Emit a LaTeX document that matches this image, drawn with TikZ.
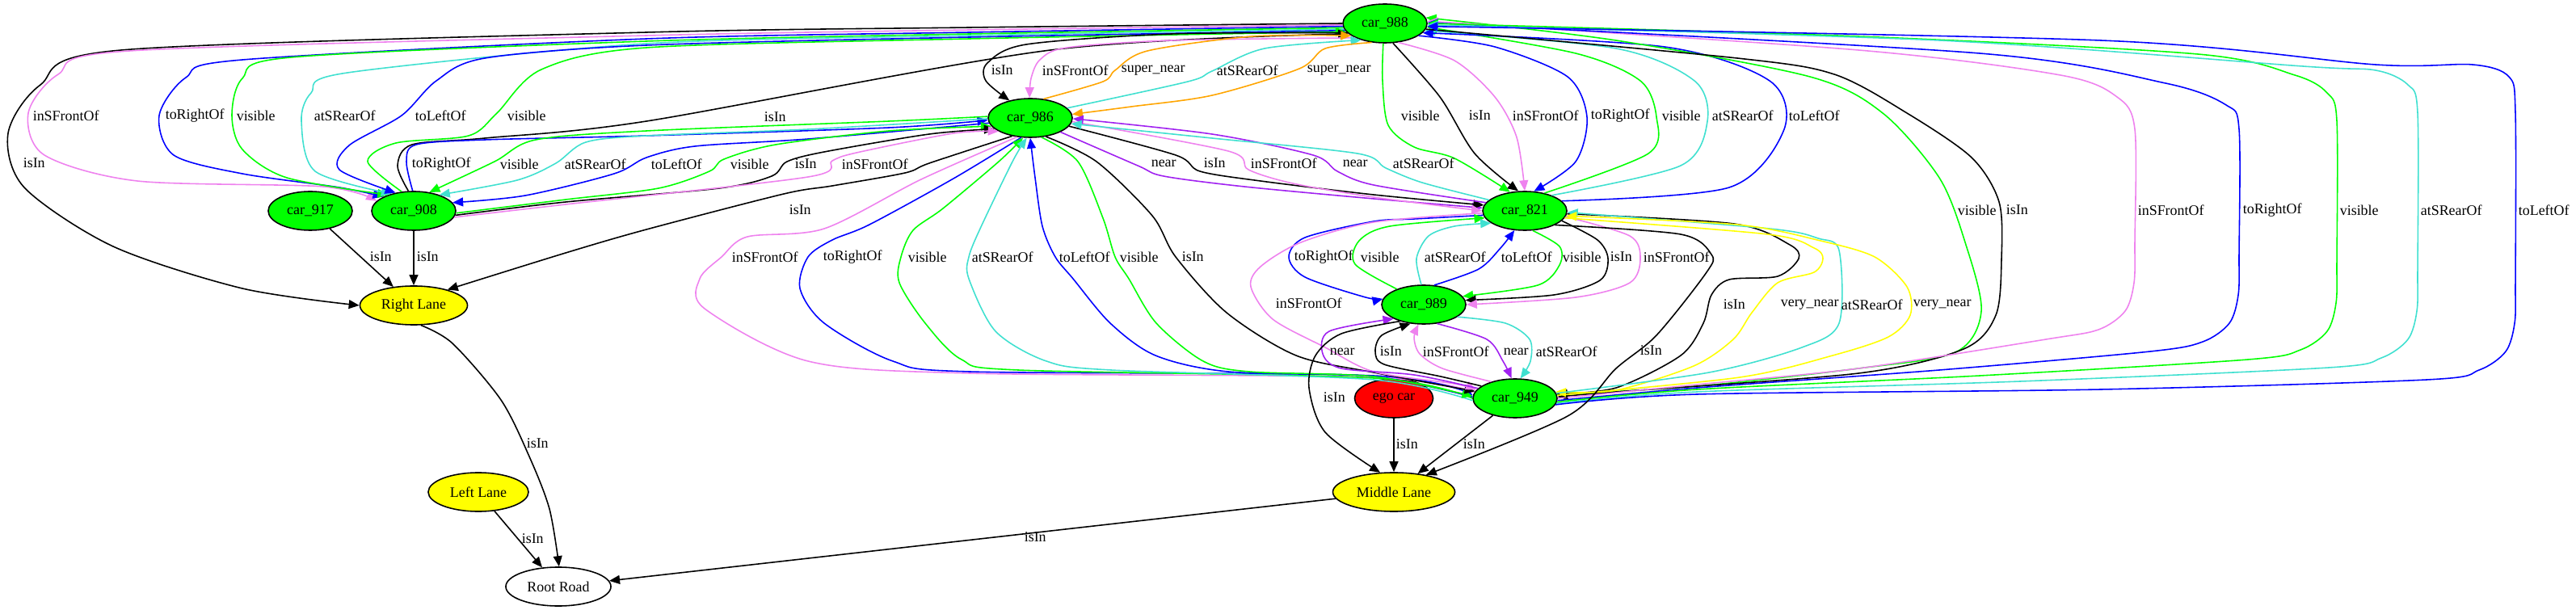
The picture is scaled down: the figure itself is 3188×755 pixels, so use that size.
\documentclass[tikz,border=0pt]{standalone}
\usepackage{fontspec}
\setmainfont{Liberation Serif}
\usetikzlibrary{shapes.geometric, arrows.meta}
\definecolor{gvgreen}{HTML}{00FF00}
\definecolor{gvyellow}{HTML}{FFFF00}
\definecolor{gvred}{HTML}{FF0000}
\definecolor{gvviolet}{HTML}{EE82EE}
\definecolor{gvturq}{HTML}{40E0D0}
\definecolor{gvpurple}{HTML}{A020F0}
\definecolor{gvorange}{HTML}{FFA500}
\definecolor{gvblue}{HTML}{0000FF}

\begin{document}
\begin{tikzpicture}[x=0.01cm, y=-0.01cm,
  font=\fontsize{5.1pt}{6pt}\selectfont,
  car/.style={ellipse, draw, line width=0.45pt, fill=gvgreen, minimum width=1.04cm, minimum height=0.48cm, inner sep=0pt},
  lane/.style={car, fill=gvyellow},
  rel/.style={color=#1, line width=0.45pt, -{Triangle[length=3.7pt, width=3.1pt]}},
  lbl/.style={anchor=west, inner sep=0pt, text=black}
]
  \useasboundingbox (0,0) rectangle (3188,755);

  \node[car] (n988) at (1714,29) {car\_988};
  \node[car] (n986) at (1275,146) {car\_986};
  \node[car] (n917) at (384,261) {car\_917};
  \node[car] (n908) at (512,261) {car\_908};
  \node[car] (n821) at (1887,261) {car\_821};
  \node[car] (n989) at (1762,377) {car\_989};
  \node[car, fill=gvred, minimum width=0.97cm] (nego) at (1725,493) {ego car};
  \node[car] (n949) at (1875,493) {car\_949};
  \node[lane, minimum width=1.33cm] (nRL) at (512,378) {Right Lane};
  \node[lane, minimum width=1.24cm] (nLL) at (592,609) {Left Lane};
  \node[lane, minimum width=1.51cm] (nML) at (1725,609) {Middle Lane};
  \node[car, fill=white, minimum width=1.30cm] (nRR) at (691,726) {Root Road};

  % car_988 <-> car_908, far left
  \draw[rel=black] (28,202) node[lbl]{isIn} plot[smooth] coordinates {(n988.180) (1200,34) (800,40) (150,62) (50,105) (10,165) (30,232) (140,305) (300,357) (nRL.180)};
  \draw[rel=gvviolet] (40,143) node[lbl]{inSFrontOf} plot[smooth] coordinates {(n988.182) (1200,37) (800,44) (160,63) (72,92) (35,140) (55,192) (170,224) (400,231) (n908.165)};
  \draw[rel=gvblue] (204,143) node[lbl]{toRightOf} plot[smooth] coordinates {(n988.184) (1200,40) (800,48) (300,74) (230,96) (197,143) (215,192) (300,215) (420,232) (n908.155)};
  \draw[rel=gvgreen] (292,143) node[lbl]{visible} plot[smooth] coordinates {(n988.186) (1200,42) (800,51) (360,71) (300,97) (287,143) (300,185) (355,220) (n908.148)};
  \draw[rel=gvturq] (388,143) node[lbl]{atSRearOf} plot[smooth] coordinates {(n988.188) (1200,44) (800,54) (430,90) (385,115) (373,150) (390,212) (n908.142)};
  \draw[rel=gvblue] (513,143) node[lbl]{toLeftOf} plot[smooth] coordinates {(n988.190) (1200,46) (800,56) (600,72) (540,100) (497,143) (432,180) (420,210) (n908.135)};
  \draw[rel=gvgreen] (627,143) node[lbl]{visible} plot[smooth] coordinates {(n908.122) (455,200) (490,177) (580,168) (615,140) (670,86) (800,59) (1200,48) (n988.192)};
  \draw[rel=black] (945,145) node[lbl]{isIn} plot[smooth] coordinates {(n908.105) (492,205) (510,179) (600,171) (800,150) (1300,62) (n988.196)};

  % car_908 <-> car_986
  \draw[rel=gvblue] (509,203) node[lbl]{toRightOf} plot[smooth] coordinates {(n908.93) (503,200) (515,179) (600,173) (800,168) (1100,158) (n986.183)};
  \draw[rel=gvgreen] (618,203) node[lbl]{visible} plot[smooth] coordinates {(n986.178) (1100,150) (800,162) (663,173) (612,200) (n908.50)};
  \draw[rel=gvturq] (698,203) node[lbl]{atSRearOf} plot[smooth] coordinates {(n986.181) (1000,160) (800,168) (725,176) (688,202) (640,223) (n908.32)};
  \draw[rel=gvblue] (805,203) node[lbl]{toLeftOf} plot[smooth] coordinates {(n986.187) (1000,172) (860,181) (800,195) (760,215) (650,242) (n908.12)};
  \draw[rel=gvgreen] (903,203) node[lbl]{visible} plot[smooth] coordinates {(n908.357) (700,247) (815,233) (878,212) (896,197) (960,179) (1100,162) (n986.192)};
  \draw[rel=black] (983,203) node[lbl]{isIn} plot[smooth] coordinates {(n908.354) (700,250) (890,233) (955,218) (974,200) (1020,188) (1150,166) (n986.197)};
  \draw[rel=gvviolet] (1041,203) node[lbl]{inSFrontOf} plot[smooth] coordinates {(n908.351) (700,253) (1000,219) (1030,199) (1060,189) (1180,165) (n986.203)};
  \draw[rel=black] (976,260) node[lbl]{isIn} plot[smooth] coordinates {(n986.225) (1150,202) (1120,214) (1030,230) (970,240) (800,284) (700,313) (nRL.25)};

  % car_988 <-> car_986
  \draw[rel=black] (1226,87) node[lbl]{isIn} plot[smooth] coordinates {(n988.194) (1450,42) (1270,55) (1222,78) (1220,100) (n986.140)};
  \draw[rel=gvviolet] (1289,87) node[lbl]{inSFrontOf} plot[smooth] coordinates {(n988.206) (1450,50) (1320,59) (1287,74) (1276,97) (n986.92)};
  \draw[rel=gvorange] (1387,87) node[lbl]{super\_near} plot[smooth] coordinates {(n986.55) (1365,101) (1380,87) (1420,63) (1550,45) (n988.200)};
  \draw[rel=gvturq] (1505,87) node[lbl]{atSRearOf} plot[smooth] coordinates {(n986.15) (1470,101) (1500,88) (1565,60) (n988.215)};
  \draw[rel=gvorange] (1617,87) node[lbl]{super\_near} plot[smooth] coordinates {(n988.235) (1640,60) (1608,85) (1500,118) (1400,132) (n986.5)};

  % car_988 <-> car_821
  \draw[rel=gvgreen] (1733,143) node[lbl]{visible} plot[smooth] coordinates {(n988.265) (1711,100) (1718,155) (1750,182) (1800,196) (n821.128)};
  \draw[rel=black] (1817,143) node[lbl]{isIn} plot[smooth] coordinates {(n988.292) (1782,120) (1825,190) (n821.108)};
  \draw[rel=gvviolet] (1871,143) node[lbl]{inSFrontOf} plot[smooth] coordinates {(n988.305) (1800,75) (1850,120) (1877,170) (n821.90)};
  \draw[rel=gvblue] (1968,143) node[lbl]{toRightOf} plot[smooth] coordinates {(n988.340) (1850,58) (1940,95) (1964,145) (1950,200) (n821.65)};
  \draw[rel=gvgreen] (2056,143) node[lbl]{visible} plot[smooth] coordinates {(n821.42) (2040,190) (2050,145) (2030,100) (1950,66) (n988.355)};
  \draw[rel=gvturq] (2118,143) node[lbl]{atSRearOf} plot[smooth] coordinates {(n821.30) (2080,205) (2113,150) (2097,100) (2000,60) (n988.350)};
  \draw[rel=gvblue] (2213,143) node[lbl]{toLeftOf} plot[smooth] coordinates {(n821.15) (2140,232) (2208,160) (2190,100) (2060,58) (n988.346)};

  % car_988 <-> car_949, far right
  \draw[rel=gvgreen] (2422,260) node[lbl]{visible} plot[smooth] coordinates {(n949.5) (2100,478) (2300,456) (2420,436) (2452,385) (2432,300) (2400,220) (2330,140) (2240,95) (2000,50) (n988.8)};
  \draw[rel=black] (2482,260) node[lbl]{isIn} plot[smooth] coordinates {(n988.352) (2150,72) (2270,92) (2360,140) (2440,195) (2474,250) (2477,320) (2470,390) (2430,432) (2300,462) (2000,485) (n949.2)};
  \draw[rel=gvviolet] (2645,260) node[lbl]{inSFrontOf} plot[smooth] coordinates {(n949.0) (2100,476) (2300,456) (2532,420) (2597,408) (2630,385) (2641,350) (2642,300) (2642,160) (2620,120) (2550,93) (2300,62) (n988.3)};
  \draw[rel=gvblue] (2775,260) node[lbl]{toRightOf} plot[smooth] coordinates {(n949.357) (2100,480) (2400,458) (2661,435) (2726,423) (2759,400) (2770,365) (2771,315) (2771,160) (2755,130) (2680,103) (2450,66) (n988.1)};
  \draw[rel=gvgreen] (2895,260) node[lbl]{visible} plot[smooth] coordinates {(n949.355) (2100,482) (2450,465) (2782,445) (2847,433) (2880,410) (2891,375) (2892,325) (2892,150) (2880,115) (2840,93) (2720,67) (2300,45) (n988.0)};
  \draw[rel=gvturq] (2995,260) node[lbl]{atSRearOf} plot[smooth] coordinates {(n949.353) (2100,485) (2500,472) (2882,455) (2947,443) (2980,420) (2991,385) (2992,335) (2992,140) (2980,105) (2940,87) (2850,82) (2400,50) (n988.358)};
  \draw[rel=gvblue] (3116,260) node[lbl]{toLeftOf} plot[smooth] coordinates {(n949.351) (2100,488) (2600,482) (3003,470) (3068,458) (3101,435) (3112,400) (3113,350) (3113,140) (3105,95) (3060,80) (2940,80) (2600,50) (n988.356)};

  % car_986 <-> car_821
  \draw[rel=gvpurple] (1424,202) node[lbl]{near} plot[smooth] coordinates {(n986.335) (1408,205) (1440,218) (1540,231) (1700,246) (n821.176)};
  \draw[rel=black] (1489,202) node[lbl]{isIn} plot[smooth] coordinates {(n986.348) (1455,192) (1485,212) (1560,224) (1700,241) (n821.172)};
  \draw[rel=gvviolet] (1547,202) node[lbl]{inSFrontOf} plot[smooth] coordinates {(n986.355) (1520,187) (1545,210) (1600,227) (1700,244) (n821.180)};
  \draw[rel=gvpurple] (1661,202) node[lbl]{near} plot[smooth] coordinates {(n821.168) (1700,229) (1655,212) (1625,192) (1500,166) (n986.359)};
  \draw[rel=gvturq] (1723,202) node[lbl]{atSRearOf} plot[smooth] coordinates {(n821.163) (1760,226) (1715,208) (1680,190) (1500,171) (n986.352)};

  % car_986 <-> car_949
  \draw[rel=gvviolet] (905,318) node[lbl]{inSFrontOf} plot[smooth] coordinates {(n986.235) (1140,222) (1020,283) (925,293) (893,318) (866,345) (872,382) (1000,447) (1200,462) (1700,467) (n949.172)};
  \draw[rel=gvblue] (1018,318) node[lbl]{toRightOf} plot[smooth] coordinates {(n986.245) (1180,221) (1076,278) (1030,297) (1000,318) (990,357) (1020,400) (1105,447) (1200,460) (1700,465) (n949.176)};
  \draw[rel=gvgreen] (1123,318) node[lbl]{visible} plot[smooth] coordinates {(n949.180) (1700,468) (1260,458) (1190,445) (1145,400) (1113,350) (1115,318) (1130,285) (1167,258) (1236,200) (n986.250)};
  \draw[rel=gvturq] (1202,318) node[lbl]{atSRearOf} plot[smooth] coordinates {(n949.183) (1700,470) (1375,458) (1295,447) (1232,410) (1199,345) (1199,318) (1213,283) (1253,200) (n986.260)};
  \draw[rel=gvblue] (1310,318) node[lbl]{toLeftOf} plot[smooth] coordinates {(n949.178) (1700,466) (1520,460) (1430,440) (1374,400) (1328,345) (1306,318) (1290,280) (1281,220) (n986.270)};
  \draw[rel=gvgreen] (1385,318) node[lbl]{visible} plot[smooth] coordinates {(n986.300) (1334,200) (1365,270) (1380,318) (1397,345) (1431,400) (1489,447) (1546,460) (1700,466) (n949.177)};
  \draw[rel=black] (1462,318) node[lbl]{isIn} plot[smooth] coordinates {(n986.310) (1357,200) (1426,267) (1455,318) (1518,387) (1604,440) (1700,461) (n949.170)};

  % car_821 <-> car_989
  \draw[rel=gvblue] (1601,318) node[lbl]{toRightOf} plot[smooth] coordinates {(n821.186) (1750,271) (1700,274) (1615,294) (1595,318) (1615,343) (1690,368) (n989.172)};
  \draw[rel=gvgreen] (1683,318) node[lbl]{visible} plot[smooth] coordinates {(n989.150) (1677,327) (1682,298) (1720,280) (n821.190)};
  \draw[rel=gvturq] (1762,318) node[lbl]{atSRearOf} plot[smooth] coordinates {(n989.97) (1753,320) (1768,292) (1800,280) (n821.200)};
  \draw[rel=gvblue] (1857,318) node[lbl]{toLeftOf} plot[smooth] coordinates {(n989.62) (1830,333) (1857,307) (n821.242)};
  \draw[rel=gvgreen] (1933,318) node[lbl]{visible} plot[smooth] coordinates {(n821.292) (1930,305) (1930,328) (1903,353) (n989.12)};
  \draw[rel=black] (1992,318) node[lbl]{isIn} plot[smooth] coordinates {(n821.345) (1977,297) (1990,320) (1980,347) (1923,365) (n989.6)};
  \draw[rel=gvviolet] (2033,318) node[lbl]{inSFrontOf} plot[smooth] coordinates {(n821.352) (2017,292) (2030,320) (2017,350) (1950,368) (n989.0)};
  \draw[rel=gvviolet] (1578,375) node[lbl]{inSFrontOf} plot[smooth] coordinates {(n821.183) (1700,275) (1610,300) (1560,330) (1548,355) (1575,395) (1640,430) (1700,460) (1800,475) (n949.168)};

  % car_989 <-> car_949
  \draw[rel=gvpurple] (1645,435) node[lbl]{near} plot[smooth] coordinates {(n949.165) (1750,464) (1660,456) (1637,438) (1645,410) (n989.205)};
  \draw[rel=black] (1707,435) node[lbl]{isIn} plot[smooth] coordinates {(n949.160) (1783,466) (1713,451) (1702,435) (1710,415) (n989.235)};
  \draw[rel=gvviolet] (1760,435) node[lbl]{inSFrontOf} plot[smooth] coordinates {(n949.145) (1785,456) (1757,438) (1750,418) (n989.255)};
  \draw[rel=gvpurple] (1860,435) node[lbl]{near} plot[smooth] coordinates {(n989.305) (1840,420) (1860,447) (n949.100)};
  \draw[rel=gvturq] (1900,435) node[lbl]{atSRearOf} plot[smooth] coordinates {(n989.340) (1863,400) (1893,420) (1894,447) (n949.75)};

  % car_821 <-> car_949
  \draw[rel=black] (2132,377) node[lbl]{isIn} plot[smooth] coordinates {(n821.356) (2146,277) (2215,303) (2226,320) (2200,342) (2140,346) (2118,365) (2108,400) (2080,440) (2000,480) (n949.6)};
  \draw[rel=gvyellow] (2203,377) node[lbl]{very\_near} plot[smooth] coordinates {(n821.350) (2188,290) (2245,307) (2256,320) (2245,337) (2200,350) (2168,387) (2145,420) (2096,453) (2000,483) (n949.9)};
  \draw[rel=gvturq] (2278,377) node[lbl]{atSRearOf} plot[smooth] coordinates {(n949.7) (2115,461) (2230,430) (2276,400) (2276,310) (2250,295) (2190,283) (n821.358)};
  \draw[rel=gvyellow] (2367,377) node[lbl]{very\_near} plot[smooth] coordinates {(n949.4) (2153,467) (2268,440) (2337,417) (2364,390) (2360,355) (2320,318) (2253,298) (2150,278) (n821.353)};

  % lanes and road
  \draw[rel=black] (2029,434) node[lbl]{isIn} plot[smooth] coordinates {(n821.335) (2080,290) (2118,315) (2112,337) (2050,415) (2000,456) (1940,515) (nML.28)};
  \draw[rel=black] (1637,492) node[lbl]{isIn} plot[smooth] coordinates {(n989.215) (1660,413) (1628,440) (1620,480) (1640,535) (nML.125)};
  \draw[rel=black] (457,318) node[lbl]{isIn} (n917) -- (nRL);
  \draw[rel=black] (515,318) node[lbl]{isIn} (n908) -- (nRL);
  \draw[rel=black] (651,549) node[lbl]{isIn} plot[smooth] coordinates {(nRL.290) (560,425) (620,495) (655,565) (680,630) (nRR.88)};
  \draw[rel=black] (645,667) node[lbl]{isIn} (nLL) -- (nRR);
  \draw[rel=black] (1267,665) node[lbl]{isIn} (nML) -- (nRR);
  \draw[rel=black] (1727,550) node[lbl]{isIn} (nego) -- (nML);
  \draw[rel=black] (1810,550) node[lbl]{isIn} (n949) -- (nML);
\end{tikzpicture}
\end{document}
